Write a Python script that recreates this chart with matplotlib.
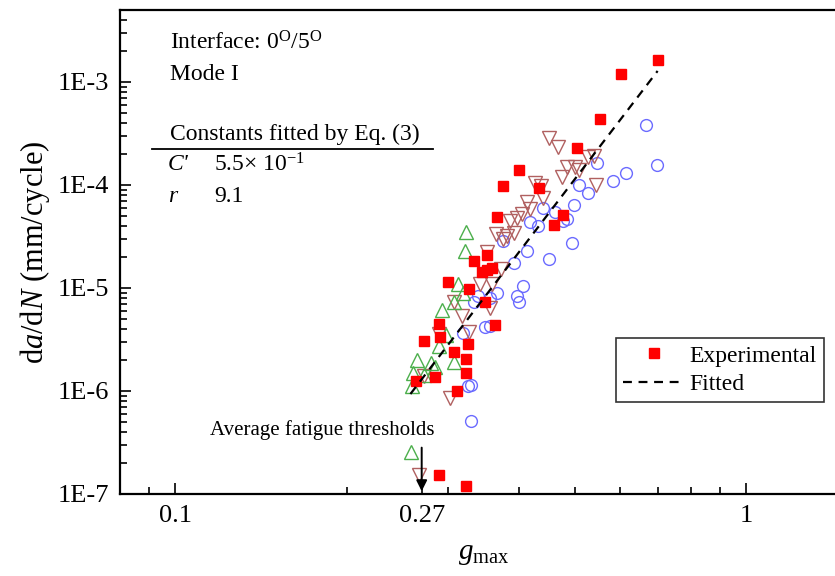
import matplotlib
matplotlib.use("Agg")
import matplotlib.pyplot as plt
from matplotlib.lines import Line2D
from matplotlib.ticker import FixedLocator, NullFormatter, FixedFormatter

plt.rcParams['font.family'] = ['Liberation Serif', 'DejaVu Serif']
plt.rcParams['mathtext.fontset'] = 'custom'
plt.rcParams['mathtext.rm'] = 'Liberation Serif'
plt.rcParams['mathtext.it'] = 'Liberation Serif:italic'

# --- data ---
exp_g = [0.699, 0.604, 0.555, 0.506, 0.400, 0.375, 0.434, 0.366, 0.478, 0.461,
         0.352, 0.334, 0.344, 0.351, 0.358, 0.300, 0.327, 0.349, 0.289, 0.363,
         0.291, 0.273, 0.325, 0.307, 0.323, 0.285, 0.323, 0.264, 0.311, 0.289, 0.323]
exp_rate = [1.64e-3, 1.20e-3, 4.37e-4, 2.29e-4, 1.40e-4, 9.78e-5, 9.35e-5, 4.89e-5, 5.11e-5, 4.09e-5,
            2.09e-5, 1.83e-5, 1.43e-5, 1.50e-5, 1.56e-5, 1.14e-5, 9.78e-6, 7.31e-6, 4.47e-6, 4.37e-6,
            3.34e-6, 3.06e-6, 2.86e-6, 2.39e-6, 2.05e-6, 1.37e-6, 1.50e-6, 1.25e-6, 1.00e-6, 1.53e-7, 1.20e-7]

up_g = [0.323, 0.322, 0.312, 0.319, 0.307, 0.293, 0.298, 0.289, 0.265, 0.280,
        0.285, 0.308, 0.261, 0.273, 0.260, 0.259]
up_rate = [3.50e-5, 2.29e-5, 1.09e-5, 8.94e-6, 7.31e-6, 6.11e-6, 3.50e-6, 2.73e-6, 2.00e-6, 1.87e-6,
           1.71e-6, 1.91e-6, 1.50e-6, 1.43e-6, 1.12e-6, 2.56e-7]

down_g = [0.452, 0.467, 0.527, 0.540, 0.486, 0.500, 0.510, 0.476, 0.546, 0.427,
          0.436, 0.441, 0.412, 0.418, 0.405, 0.396, 0.386, 0.365, 0.381, 0.391,
          0.375, 0.351, 0.372, 0.359, 0.341, 0.307, 0.318, 0.327, 0.356, 0.290,
          0.273, 0.303, 0.267]
down_rate = [2.86e-4, 2.34e-4, 1.87e-4, 1.91e-4, 1.50e-4, 1.50e-4, 1.40e-4, 1.20e-4, 1.00e-4, 1.05e-4,
             9.78e-5, 7.48e-5, 6.84e-5, 5.85e-5, 5.23e-5, 4.78e-5, 4.47e-5, 3.34e-5, 3.20e-5, 3.42e-5,
             2.99e-5, 2.24e-5, 1.53e-5, 1.09e-5, 1.09e-5, 7.31e-6, 5.35e-6, 3.74e-6, 6.39e-6, 3.58e-6,
             1.40e-6, 8.55e-7, 1.53e-7]

circ_g = [0.668, 0.696, 0.616, 0.583, 0.548, 0.510, 0.527, 0.498, 0.441, 0.463,
          0.478, 0.486, 0.418, 0.431, 0.494, 0.452, 0.412, 0.391, 0.374, 0.407,
          0.397, 0.400, 0.366, 0.356, 0.339, 0.333, 0.349, 0.355, 0.319, 0.326,
          0.330, 0.330]
circ_rate = [3.82e-4, 1.56e-4, 1.31e-4, 1.09e-4, 1.64e-4, 1.00e-4, 8.36e-5, 6.39e-5, 5.98e-5, 5.47e-5,
             4.47e-5, 4.68e-5, 4.37e-5, 4.00e-5, 2.73e-5, 1.91e-5, 2.29e-5, 1.75e-5, 2.86e-5, 1.05e-5,
             8.36e-6, 7.31e-6, 8.94e-6, 8.00e-6, 8.36e-6, 7.31e-6, 4.18e-6, 4.28e-6, 3.66e-6, 1.12e-6,
             1.14e-6, 5.11e-7]

fit_g = [0.258, 0.699]
fit_rate = [9.35e-7, 1.28e-3]

g_threshold = 0.27

x_major = [0.1, 0.27, 1]
x_major_labels = ['0.1', '0.27', '1']
x_minor = [0.09, 0.2, 0.3, 0.4, 0.5, 0.6, 0.7, 0.8, 0.9]
y_major = [1e-7, 1e-6, 1e-5, 1e-4, 1e-3]
y_major_labels = ['1E-7', '1E-6', '1E-5', '1E-4', '1E-3']

W, H = 835, 576
fig = plt.figure(figsize=(W / 100, H / 100), dpi=100)
# right spine lies outside the picture, as in the reference
ax = fig.add_axes([120 / W, 1 - 494 / H, (847 - 120) / W, (494 - 10) / H])
ax.set_xscale('log')
ax.set_yscale('log')
ax.set_xlim(0.08, 1.5)
ax.set_ylim(1e-7, 5e-3)

ax.plot(circ_g, circ_rate, 'o', ms=8.5, mfc='none', mec='#6b6bff', mew=1.0, ls='none')
ax.plot(down_g, down_rate, 'v', ms=10, mfc='none', mec='#b06060', mew=1.0, ls='none')
ax.plot(up_g, up_rate, '^', ms=10, mfc='none', mec='#4caf4c', mew=1.0, ls='none')
ax.plot(exp_g, exp_rate, 's', ms=7, mfc='#ff0000', mec='#ff0000', ls='none',
        label='Experimental')
ax.plot(fit_g, fit_rate, color='black', lw=1.6, dashes=(4, 3), label='Fitted')

# axes styling
for side in ['left', 'bottom', 'top']:
    ax.spines[side].set_linewidth(1.6)
ax.spines['right'].set_visible(False)
ax.xaxis.set_major_locator(FixedLocator(x_major))
ax.xaxis.set_major_formatter(FixedFormatter(x_major_labels))
ax.xaxis.set_minor_locator(FixedLocator(x_minor))
ax.xaxis.set_minor_formatter(NullFormatter())
ax.yaxis.set_major_locator(FixedLocator(y_major))
ax.yaxis.set_major_formatter(FixedFormatter(y_major_labels))
ax.tick_params(which='both', direction='in', top=False, right=False, width=1.2)
ax.tick_params(which='major', length=8, labelsize=19, pad=8)
ax.tick_params(which='minor', length=5)

ax.set_xlabel(r'$g_{\rm max}$', fontsize=21, labelpad=10)
ax.set_ylabel(r'd$a$/d$N$ (mm/cycle)', fontsize=22, labelpad=4)

# text block in the upper left
tk = dict(transform=fig.transFigure, fontsize=17, va='center', ha='left')
fig.text(170 / W, 1 - 43 / H, r'Interface: 0$^{\rm O}$/5$^{\rm O}$', **tk)
fig.text(170 / W, 1 - 74 / H, 'Mode I', **tk)
fig.text(170 / W, 1 - 134 / H, 'Constants fitted by Eq. (3)', **tk)
fig.add_artist(Line2D([152 / W, 433 / W], [1 - 149 / H, 1 - 149 / H],
                      transform=fig.transFigure, color='black', lw=1.3))
fig.text(168 / W, 1 - 165 / H, "C'", style='italic', **tk)
fig.text(214 / W, 1 - 165 / H, r'5.5$\times$ 10$^{-1}$', **tk)
fig.text(168 / W, 1 - 197 / H, 'r', style='italic', **tk)
fig.text(214 / W, 1 - 197 / H, '9.1', **tk)

# threshold arrow
ax.text(0.181, 4.2e-7, 'Average fatigue thresholds', fontsize=15, ha='center', va='center')
ax.annotate('', xy=(g_threshold, 1e-7), xytext=(g_threshold, 3.0e-7),
            arrowprops=dict(arrowstyle='-|>', color='black', lw=1.4, mutation_scale=16))

leg = ax.legend(loc='upper left', bbox_to_anchor=(616 / W, 1 - 338 / H),
                bbox_transform=fig.transFigure, fontsize=17, frameon=True,
                fancybox=False, edgecolor='black', handlelength=2.6,
                borderpad=0.3, labelspacing=0.3, handletextpad=0.2,
                borderaxespad=0)
leg.get_frame().set_linewidth(1.2)

fig.savefig('out.png', dpi=100)
